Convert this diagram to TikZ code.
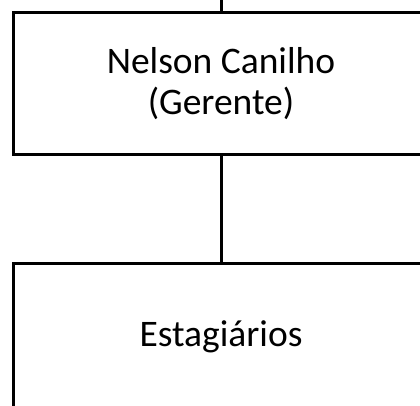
\documentclass[tikz,border=0pt]{standalone}
\usepackage{fontspec}
\setmainfont{Carlito}
\begin{document}
\begin{tikzpicture}[x=1pt,y=-1pt,
  orgbox/.style={draw=black,line width=3pt,minimum width=416pt,inner sep=0pt,align=center,font=\fontsize{37.5}{41}\selectfont},
  link/.style={draw=black,line width=3pt}]
\useasboundingbox (0,0) rectangle (420,406);
\clip (0,0) rectangle (420,406);
\node[orgbox,minimum height=142pt] (ger) at (221,84) {Nelson Canilho\\(Gerente)};
\node[orgbox,minimum height=148pt] (est) at (221,337) {Estagiários};
\coordinate (up) at (221,0);
\draw[link] (up) -- (ger.north);
\draw[link] (ger.south) -- (est.north);
\end{tikzpicture}
\end{document}
